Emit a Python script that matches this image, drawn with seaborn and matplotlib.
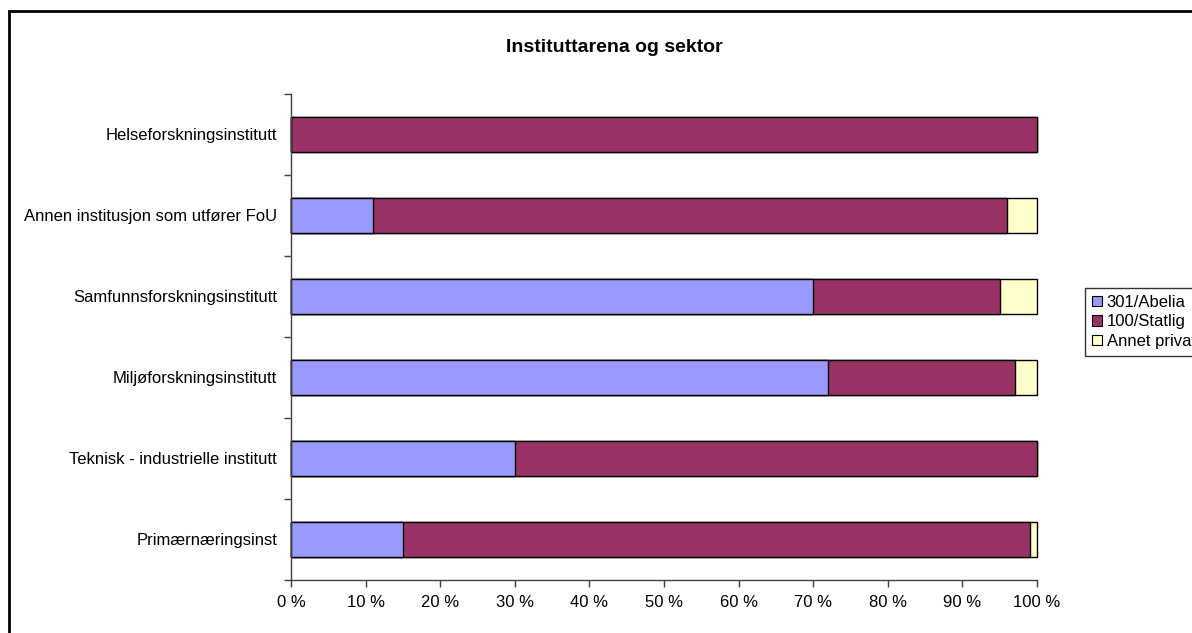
import numpy as np
import pandas as pd
import matplotlib
matplotlib.use("Agg")
import matplotlib.pyplot as plt
from matplotlib.patches import Rectangle, Patch
import seaborn as sns

# Data (percent shares per institute type)
categories = [
    "Helseforskningsinstitutt",
    "Annen institusjon som utfører FoU",
    "Samfunnsforskningsinstitutt",
    "Miljøforskningsinstitutt",
    "Teknisk - industrielle institutt",
    "Primærnæringsinst",
]
abelia = [0, 11, 70, 72, 30, 15]
statlig = [100, 85, 25, 25, 70, 84]
annet = [0, 4, 5, 3, 0, 1]
series_names = ["301/Abelia", "100/Statlig", "Annet privat"]
colors = ["#9999FF", "#993366", "#FFFFCC"]
xticks = [0, 10, 20, 30, 40, 50, 60, 70, 80, 90, 100]

sns.set_style("white")
plt.rcParams["font.family"] = ["Liberation Sans", "DejaVu Sans"]
plt.rcParams["text.color"] = "black"
plt.rcParams["xtick.color"] = "black"
plt.rcParams["ytick.color"] = "black"

df = pd.DataFrame({"kategori": categories, "abelia": abelia,
                   "statlig": statlig, "annet": annet})
df["c1"] = df["abelia"]
df["c2"] = df["abelia"] + df["statlig"]
df["c3"] = df["c2"] + df["annet"]

fig = plt.figure(figsize=(11.92, 6.33), dpi=100)
ax = fig.add_axes([291 / 1192, 1 - 580 / 633, (1037 - 291) / 1192, (580 - 94) / 633])

# stacked bars: draw cumulative totals, largest first
for col, c in zip(["c3", "c2", "c1"], colors[::-1]):
    sns.barplot(data=df, x=col, y="kategori", orient="h", color=c,
                width=0.42, edgecolor="black", linewidth=1, saturation=1,
                ax=ax, order=categories)
for p in ax.patches:
    p.set_clip_on(False)

ax.set_xlim(0, 100)
ax.set_ylim(len(categories) - 0.5, -0.5)
ax.set_xticks(xticks)
ax.set_xticklabels([f"{v} %" for v in xticks], fontsize=12)
ax.set_yticks(range(len(categories)))
ax.set_yticklabels(categories, fontsize=12)
ax.set_yticks(np.arange(-0.5, len(categories)), minor=True)
ax.tick_params(axis="y", which="major", length=0, pad=10, labelcolor="black")
ax.tick_params(axis="y", which="minor", length=5, width=1, color="#404040", direction="out", left=True)
ax.tick_params(axis="x", length=5, width=1, color="#404040", direction="out", bottom=True, pad=6,
               labelcolor="black")
ax.set_xlabel("")
ax.set_ylabel("")
for s in ["top", "right"]:
    ax.spines[s].set_visible(False)
for s in ["left", "bottom"]:
    ax.spines[s].set_color("#404040")
    ax.spines[s].set_linewidth(1)

fig.text(614 / 1192, 1 - 47 / 633, "Instituttarena og sektor", ha="center", va="center",
         fontsize=14, fontweight="bold", color="black")

handles = [Patch(facecolor=c, edgecolor="black", linewidth=0.8) for c in colors]
leg = fig.legend(handles, series_names, loc="upper left",
                 bbox_to_anchor=(1085 / 1192, 1 - 288 / 633), fontsize=12,
                 frameon=True, fancybox=False, edgecolor="black",
                 handlelength=0.6, handleheight=0.6, handletextpad=0.3,
                 labelspacing=0.28, borderpad=0.4, borderaxespad=0)
leg.get_frame().set_linewidth(1)

# outer chart frame
fig.patches.append(Rectangle((9 / 1192, -0.1), 1.2, 1 - 11 / 633 + 0.1,
                             transform=fig.transFigure, fill=False,
                             edgecolor="black", linewidth=2))

fig.savefig("out.png", dpi=100)
